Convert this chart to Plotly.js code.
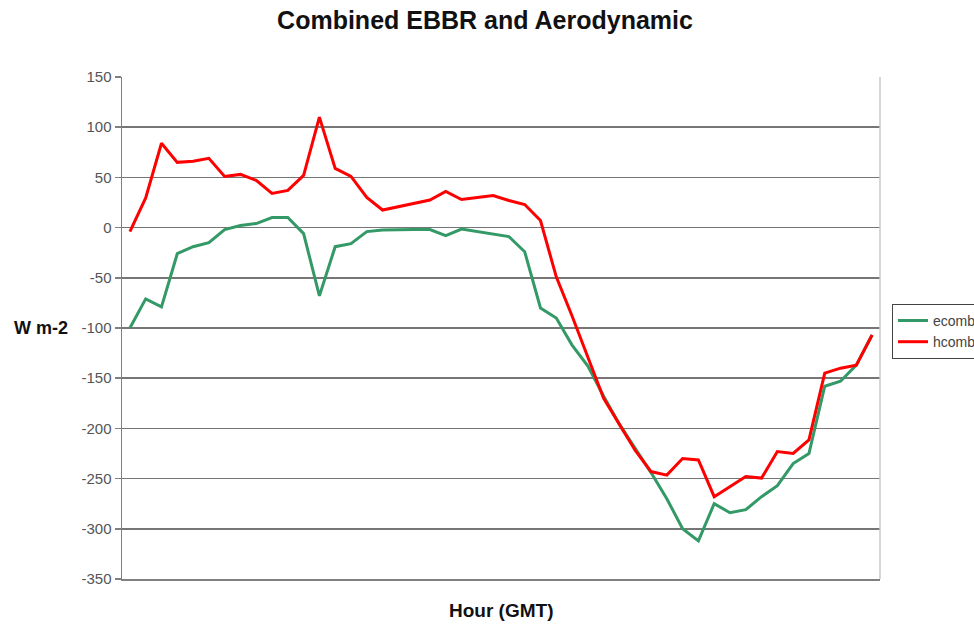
<!DOCTYPE html>
<html>
<head>
<meta charset="utf-8">
<script src="https://cdn.plot.ly/plotly-3.0.1.min.js"></script>
<style>html,body{margin:0;padding:0;background:#fff;}#chart{width:974px;height:626px;}</style>
</head>
<body>
<div id="chart"></div>
<script>
// Half-hour categories (48 points, no tick labels shown in the original)
const categories = Array.from({length: 48}, (_, i) => i);

const ecomb = [-100, -71, -79, -26, -19, -15, -2, 2, 4, 10, 10, -6, -68, -19, -16, -4,
  -2.5, -2, -2, -2, -8, -1.5, -4, -6, -9, -24, -80, -90, -117, -138, -168, -196,
  -220, -244, -270, -300, -312, -275, -284, -281, -268, -257, -235, -225, -158, -153, -137, -107];

const hcomb = [-4, 29.5, 84, 65, 66, 69, 51, 53, 47, 34, 37, 52, 110, 59, 51, 30,
  17.5, 21, 24, 27.5, 36, 28, 30, 32, 27, 23, 7, -49, -88, -130, -170, -196,
  -222, -243, -246.5, -230, -231.5, -268, -258, -248, -249.5, -223, -225, -211.5, -145, -140, -137, -107];

const yTicks = [150, 100, 50, 0, -50, -100, -150, -200, -250, -300, -350];

const FONT = 'Liberation Sans, Arial, sans-serif';

const traces = [
  {x: categories, y: ecomb, name: 'ecomb', type: 'scatter', mode: 'lines',
   line: {color: '#339966', width: 3}},
  {x: categories, y: hcomb, name: 'hcomb', type: 'scatter', mode: 'lines',
   line: {color: '#ff0000', width: 3}}
];

const layout = {
  width: 974, height: 626,
  margin: {l: 122, r: 94, t: 77, b: 47, autoexpand: false},
  paper_bgcolor: '#ffffff', plot_bgcolor: '#ffffff',
  font: {family: FONT},
  title: {text: '<b>Combined EBBR and Aerodynamic</b>',
    font: {family: FONT, size: 25, color: '#111'},
    x: 485/974, xref: 'container', xanchor: 'center',
    y: 1 - 20/626, yref: 'container', yanchor: 'middle'},
  xaxis: {range: [-0.5, 47.5], showticklabels: false, ticks: '', showgrid: false,
    zeroline: false, showline: true, linecolor: '#808080', linewidth: 1.5, fixedrange: true},
  yaxis: {range: [-350, 150], tickvals: yTicks, ticktext: yTicks.map(String),
    showgrid: true, gridcolor: '#767676', gridwidth: 1.6,
    zeroline: false, showline: true, linecolor: '#808080', linewidth: 1.5,
    ticks: 'outside', ticklen: 6, tickcolor: '#808080', tickwidth: 1.5,
    tickfont: {family: FONT, size: 15, color: '#555'}, fixedrange: true},
  showlegend: true,
  legend: {x: 1.0158, y: 0.548, xanchor: 'left', yanchor: 'top',
    bordercolor: '#444', borderwidth: 1, bgcolor: '#fff', itemwidth: 30,
    font: {family: FONT, size: 14, color: '#444'}, tracegroupgap: 0},
  shapes: [
    {type: 'line', xref: 'paper', yref: 'paper', x0: 1, x1: 1, y0: 0, y1: 1,
     line: {color: '#c8c8c8', width: 1.5}}
  ],
  annotations: [
    {text: '<b>W m-2</b>', xref: 'paper', yref: 'paper', x: (41-122)/758, y: 0.5,
     xanchor: 'center', yanchor: 'middle', showarrow: false,
     font: {family: FONT, size: 18, color: '#111'}},
    {text: '<b>Hour (GMT)</b>', xref: 'paper', yref: 'paper', x: (501-122)/758, y: (579-610)/502,
     xanchor: 'center', yanchor: 'middle', showarrow: false,
     font: {family: FONT, size: 19, color: '#111'}}
  ]
};

Plotly.newPlot('chart', traces, layout, {displayModeBar: false, staticPlot: true});
</script>
</body>
</html>
